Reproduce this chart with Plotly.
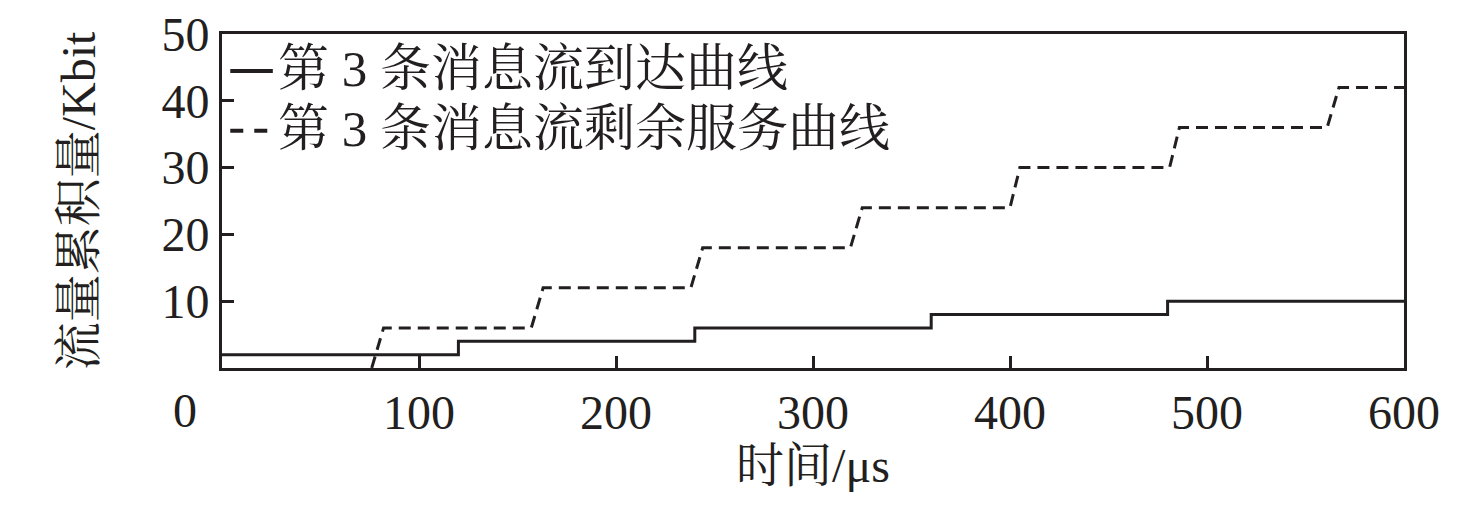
import plotly.graph_objects as go

# Arrival curve of flow 3 (step, hv)
arrival_x = [0, 120, 240, 360, 480, 600]
arrival_y = [2, 4, 6, 8, 10, 10]

# Residual service curve of flow 3 (slanted rises)
service_x = [76, 82, 157, 163, 238, 244, 319, 325, 400, 405, 481, 486, 561, 567, 600]
service_y = [0, 6, 6, 12, 12, 18, 18, 24, 24, 30, 30, 36, 36, 42, 42]

x_ticks = [100, 200, 300, 400, 500, 600]
y_ticks = [10, 20, 30, 40, 50]

names = ["第 3 条消息流到达曲线", "第 3 条消息流剩余服务曲线"]

INK = "#231f20"
FONT = "Liberation Serif, Noto Serif CJK SC, Noto Sans CJK SC, serif"
DASH = "12px,7px"

fig = go.Figure()
fig.add_trace(go.Scatter(x=arrival_x, y=arrival_y, mode="lines", name=names[0],
                         line=dict(color=INK, width=3, shape="hv")))
fig.add_trace(go.Scatter(x=service_x, y=service_y, mode="lines", name=names[1],
                         line=dict(color=INK, width=3, dash=DASH)))

# origin label
fig.add_annotation(x=0, y=0, xref="x", yref="y", text="0", showarrow=False,
                   xanchor="center", yanchor="top", xshift=-37, yshift=-14,
                   font=dict(size=48, color=INK, family=FONT))

# manual legend (inside top-left)
legend_rows = [0.895, 0.716]
legend_dash = ["solid", "13px,11px"]
for name, yy, dsh in zip(names, legend_rows, legend_dash):
    fig.add_shape(type="line", xref="paper", yref="paper",
                  x0=0.007, x1=0.043, y0=yy - 0.006, y1=yy - 0.006,
                  line=dict(color=INK, width=4, dash=dsh))
    fig.add_annotation(x=0.046, y=yy, xref="paper", yref="paper", text=name,
                       showarrow=False, xanchor="left", yanchor="middle",
                       font=dict(size=51, color=INK, family=FONT))

fig.update_layout(
    width=1476, height=514,
    margin=dict(l=214, r=80, t=26, b=154, autoexpand=False),
    paper_bgcolor="white", plot_bgcolor="white",
    font=dict(family=FONT, size=48, color=INK),
    showlegend=False,
    xaxis=dict(range=[0, 600], tickvals=x_ticks, ticks="inside", ticklen=12,
               tickwidth=3, tickcolor=INK, showline=True, linewidth=3,
               linecolor=INK, mirror=True, showgrid=False, zeroline=False,
               tickfont=dict(size=48), ticklabeloverflow="allow", automargin=False,
               title=dict(text="时间/μs", font=dict(size=48), standoff=10)),
    yaxis=dict(range=[0, 50], tickvals=y_ticks, ticks="inside", ticklen=12,
               tickwidth=3, tickcolor=INK, showline=True, linewidth=3,
               linecolor=INK, mirror=True, showgrid=False, zeroline=False,
               tickfont=dict(size=48), ticklabeloverflow="allow", automargin=False,
               title=dict(text="流量累积量/Kbit", font=dict(size=48), standoff=51)),
)

fig.write_html("out.html")
